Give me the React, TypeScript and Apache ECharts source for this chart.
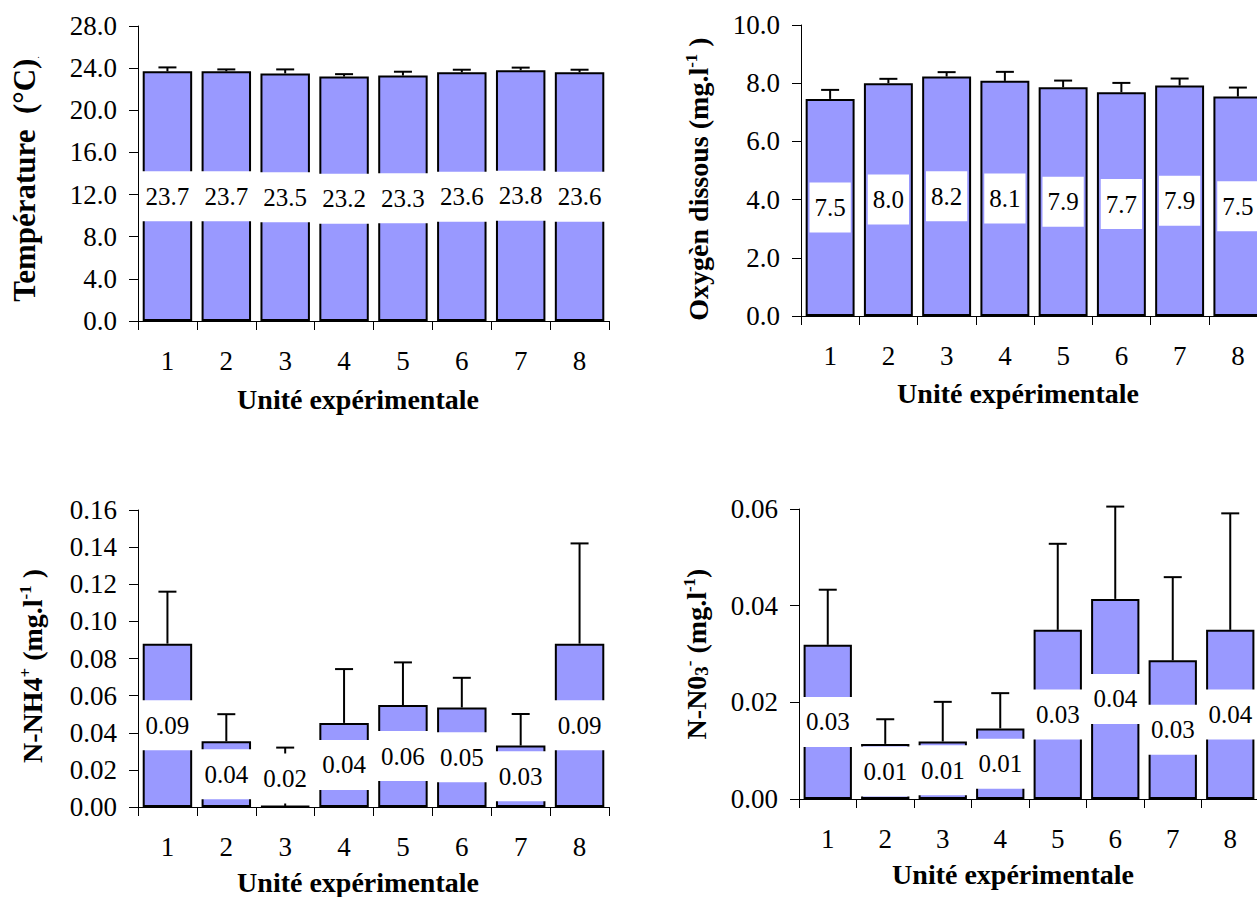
import React, { useEffect, useRef } from 'react';
import * as echarts from 'echarts';

const FONT = 'Liberation Serif, Times New Roman, serif';

const units = ['1', '2', '3', '4', '5', '6', '7', '8'];

// Température (°C)
const tempMeans = [23.7, 23.7, 23.5, 23.2, 23.3, 23.6, 23.8, 23.6];
const tempErr = [0.37, 0.18, 0.38, 0.23, 0.36, 0.25, 0.25, 0.25];
const tempLabels = ['23.7', '23.7', '23.5', '23.2', '23.3', '23.6', '23.8', '23.6'];

// Oxygène dissous (mg/l)
const oxyMeans = [7.46, 8.0, 8.23, 8.08, 7.86, 7.69, 7.92, 7.54];
const oxyErr = [0.31, 0.15, 0.15, 0.31, 0.23, 0.32, 0.24, 0.31];
const oxyLabels = ['7.5', '8.0', '8.2', '8.1', '7.9', '7.7', '7.9', '7.5'];

// N-NH4+ (mg/l)
const nh4Means = [0.088, 0.0354, 0.0005, 0.0453, 0.0549, 0.0536, 0.0331, 0.088];
const nh4Err = [0.028, 0.0146, 0.0315, 0.029, 0.023, 0.016, 0.017, 0.054];
const nh4Labels = ['0.09', '0.04', '0.02', '0.04', '0.06', '0.05', '0.03', '0.09'];

// N-NO3- (mg/l)
const no3Means = [0.0319, 0.0114, 0.0119, 0.0146, 0.035, 0.0414, 0.0287, 0.035];
const no3Err = [0.0114, 0.0051, 0.0082, 0.0073, 0.0178, 0.0191, 0.0172, 0.0241];
const no3Labels = ['0.03', '0.01', '0.01', '0.01', '0.03', '0.04', '0.03', '0.04'];

const panels = [
  { means: tempMeans, err: tempErr, labels: tempLabels, max: 28, interval: 4, digits: 1, grid: { left: 138, top: 26, width: 471, height: 295 }, labelShift: [0, 0, 0, 0, 0, 0, 0, 0] },
  { means: oxyMeans, err: oxyErr, labels: oxyLabels, max: 10, interval: 2, digits: 1, grid: { left: 801, top: 25, width: 466, height: 291 }, labelShift: [0, 0, 0, 0, 0, 0, 0, 0] },
  { means: nh4Means, err: nh4Err, labels: nh4Labels, max: 0.16, interval: 0.02, digits: 2, grid: { left: 138, top: 510, width: 471, height: 297 }, labelShift: [0, 0, -28, 0, 0, 0, 0, 0] },
  { means: no3Means, err: no3Err, labels: no3Labels, max: 0.06, interval: 0.02, digits: 2, grid: { left: 799, top: 509, width: 460, height: 290 }, labelShift: [0, 0, 0, 0, 0, 0, 0, 0] },
];

const makeRich = (size: number) => ({
  b: { fontSize: size, fontWeight: 'bold', fontFamily: FONT, lineHeight: size + 2, fill: '#000' },
  sup: { fontSize: Math.round(size * 0.6), fontWeight: 'bold', fontFamily: FONT, lineHeight: 10, verticalAlign: 'top', fill: '#000' },
  sub: { fontSize: Math.round(size * 0.68), fontWeight: 'bold', fontFamily: FONT, lineHeight: 16, verticalAlign: 'bottom', fill: '#000' },
  dot: { fontSize: 9, fontFamily: FONT, lineHeight: 12, verticalAlign: 'bottom', fill: '#000' },
});

const xTitles = [
  { x: 358, y: 399 },
  { x: 1018, y: 393 },
  { x: 358, y: 882 },
  { x: 1013, y: 874 },
];

const yTitles = [
  { x: 24, y: 179, size: 31, text: '{b|Température  (°C)}{dot|.}' },
  { x: 698, y: 179, size: 28, text: '{b|Oxygèn dissous (mg.l}{sup|-1}{b| )}' },
  { x: 32, y: 666, size: 28, text: '{b|N-NH4}{sup|+}{b| (mg.l}{sup|-1}{b| )}' },
  { x: 696, y: 654, size: 28, text: '{b|N-N0}{sub|3}{sup|-}{b| (mg.l}{sup|-1}{b|)}' },
];

export default function App() {
  const ref = useRef<HTMLDivElement>(null);

  useEffect(() => {
    if (!ref.current) return;
    const chart = echarts.init(ref.current, undefined, { renderer: 'svg' });

    const grid: any[] = [];
    const xAxis: any[] = [];
    const yAxis: any[] = [];
    const series: any[] = [];

    panels.forEach((p, k) => {
      grid.push({ ...p.grid, containLabel: false });
      xAxis.push({
        type: 'category',
        gridIndex: k,
        data: units,
        boundaryGap: true,
        axisLine: { show: true, lineStyle: { color: '#000', width: 1 } },
        axisTick: { show: true, length: 9, interval: 0, alignWithLabel: false, lineStyle: { color: '#000', width: 1 } },
        axisLabel: { color: '#000', fontSize: 27, fontFamily: FONT, margin: 26, interval: 0 },
        splitLine: { show: false },
      });
      yAxis.push({
        type: 'value',
        gridIndex: k,
        min: 0,
        max: p.max,
        interval: p.interval,
        axisLine: { show: true, lineStyle: { color: '#000', width: 1 } },
        axisTick: { show: true, length: 9, lineStyle: { color: '#000', width: 1 } },
        axisLabel: {
          color: '#000', fontSize: 27, fontFamily: FONT, margin: 21,
          formatter: (v: number) => v.toFixed(p.digits),
        },
        splitLine: { show: false },
      });
      series.push({
        type: 'custom',
        xAxisIndex: k,
        yAxisIndex: k,
        z: 2,
        clip: false,
        data: p.means.map((m, i) => [i, m, p.err[i]]),
        encode: { x: 0, y: 1 },
        renderItem: (_params: any, api: any) => {
          const i = api.value(0);
          const v = api.value(1);
          const e = api.value(2);
          const base = api.coord([i, v]);
          const top = api.coord([i, v + e]);
          return {
            type: 'group',
            children: [
              { type: 'line', shape: { x1: base[0], y1: base[1], x2: top[0], y2: top[1] }, style: { stroke: '#000', lineWidth: 2 } },
              { type: 'line', shape: { x1: top[0] - 9, y1: top[1], x2: top[0] + 9, y2: top[1] }, style: { stroke: '#000', lineWidth: 2 } },
            ],
          };
        },
      });
      series.push({
        type: 'bar',
        xAxisIndex: k,
        yAxisIndex: k,
        z: 3,
        barCategoryGap: '16%',
        data: p.means.map((m, i) => ({
          value: m,
          label: p.labelShift[i] ? { offset: [0, p.labelShift[i]] } : undefined,
        })),
        itemStyle: { color: '#9999FF', borderColor: '#000', borderWidth: 2 },
        label: {
          show: true,
          position: 'inside',
          formatter: (q: any) => p.labels[q.dataIndex],
          color: '#000',
          fontSize: 25,
          lineHeight: 25,
          fontFamily: FONT,
          backgroundColor: '#fff',
          padding: [13, 5, 12, 5],
        },
      });
    });

    const graphic: any[] = [];
    xTitles.forEach((t) => {
      graphic.push({
        type: 'text',
        x: t.x,
        y: t.y,
        style: {
          text: 'Unité expérimentale',
          fontSize: 28,
          fontWeight: 'bold',
          fontFamily: FONT,
          fill: '#000',
          align: 'center',
          verticalAlign: 'middle',
        },
      });
    });
    yTitles.forEach((t) => {
      graphic.push({
        type: 'text',
        x: t.x,
        y: t.y,
        rotation: Math.PI / 2,
        style: {
          text: t.text,
          rich: makeRich(t.size),
          fontSize: t.size,
          fontWeight: 'bold',
          fontFamily: FONT,
          fill: '#000',
          align: 'center',
          verticalAlign: 'middle',
        },
      });
    });

    chart.setOption({
      animation: false,
      backgroundColor: '#fff',
      grid,
      xAxis,
      yAxis,
      series,
      graphic,
    });

    return () => chart.dispose();
  }, []);

  return (
    <div style={{ position: 'absolute', left: 0, top: 0, width: 1257, height: 897, overflow: 'hidden', background: '#fff' }}>
      <div ref={ref} style={{ position: 'absolute', left: 0, top: 0, width: 1290, height: 897 }} />
    </div>
  );
}
